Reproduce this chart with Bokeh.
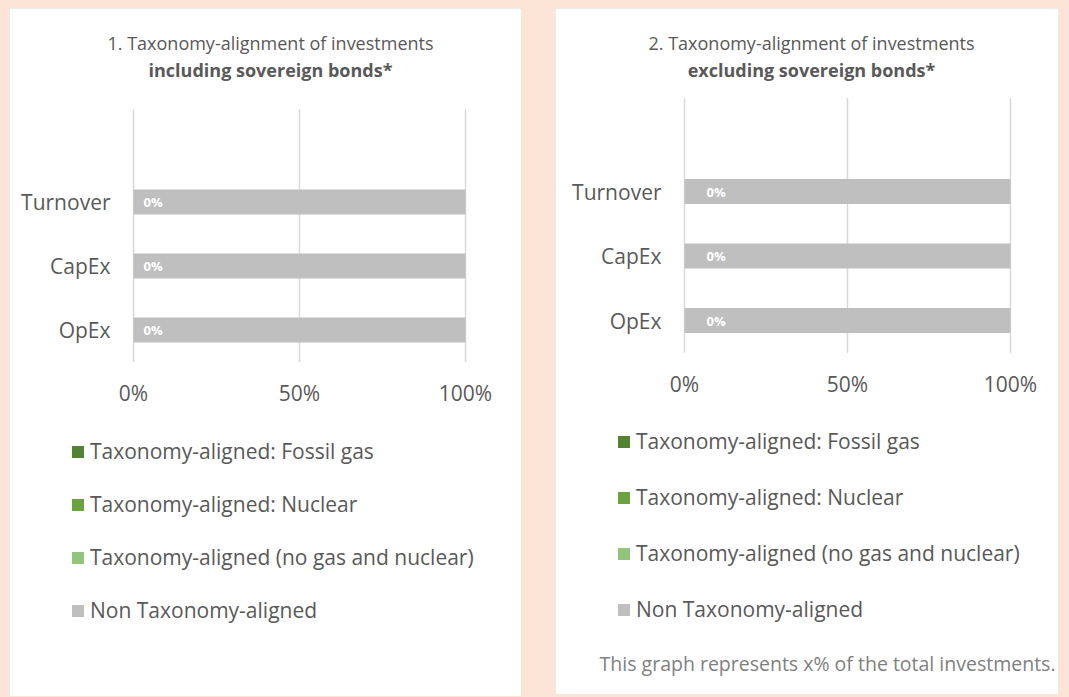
from bokeh.plotting import figure
from bokeh.models import Range1d, Legend, LegendItem, Label, ColumnDataSource
from bokeh.layouts import row
from bokeh.embed import file_html
from bokeh.resources import INLINE
from bokeh.core.properties import value

# ---------------- data ----------------
categories = ["Turnover", "CapEx", "OpEx"]
series_names = ["Taxonomy-aligned: Fossil gas",
                "Taxonomy-aligned: Nuclear",
                "Taxonomy-aligned (no gas and nuclear)",
                "Non Taxonomy-aligned"]
incl_fossil_gas = [0, 0, 0]
incl_nuclear = [0, 0, 0]
incl_aligned = [0, 0, 0]
incl_non_aligned = [100, 100, 100]
excl_fossil_gas = [0, 0, 0]
excl_nuclear = [0, 0, 0]
excl_aligned = [0, 0, 0]
excl_non_aligned = [100, 100, 100]
x_ticks = [0, 50, 100]
x_tick_labels = ["0%", "50%", "100%"]
title1_a = "1. Taxonomy-alignment of investments"
title1_b = "including sovereign bonds*"
title2_a = "2. Taxonomy-alignment of investments"
title2_b = "excluding sovereign bonds*"
footnote = "This graph represents x% of the total investments."

# ---------------- style ----------------
colors = ["#548235", "#6BA343", "#93C47D", "#BFBFBF"]
TXT = "#595959"
FONT = "Open Sans"
PEACH = "#FCE4D6"
GRID = "#D9D9D9"


def make_panel(vals, t_a, t_b, fig_box, plot_x, yb, dy, label_dx,
               title_x, leg_x, leg_spacing, leg_last, note=None):
    """fig_box: (left, top, width, height) of the panel on the page;
    plot_x: page x of 0 % and 100 %; yb: page y of the lowest category;
    dy: pixel distance between categories; leg_last: page y of the last
    legend entry."""
    fx, fy, fw, fh = fig_box
    x0p, x1p = plot_x
    sx = (x1p - x0p) / 100.0
    n = len(categories)
    ypos = [n - 1 - i for i in range(n)]
    keys = ["s0", "s1", "s2", "s3"]
    data = {"y": ypos, "cat": categories}
    for k, v in zip(keys, vals):
        data[k] = v
    aligned_total = [a + b + c for a, b, c in zip(vals[0], vals[1], vals[2])]
    data["lab"] = [f"{v:.0f}%" for v in vals[2]]
    data["lab_x"] = aligned_total
    data["zero"] = [0] * n
    src = ColumnDataSource(data)

    xr = Range1d(-(x0p - fx) / sx, 100 + (fx + fw - x1p) / sx)
    yr = Range1d(-(fy + fh - yb) / dy, (yb - fy) / dy)
    p = figure(width=fw, height=fh, output_backend="svg",
               toolbar_location=None, x_range=xr, y_range=yr,
               x_axis_location=None, y_axis_location=None,
               min_border=0, min_border_left=0, min_border_right=0,
               min_border_top=0, min_border_bottom=0)
    p.background_fill_color = "white"
    p.border_fill_color = "white"
    p.outline_line_color = None
    p.styles = {"outline": "1px solid #D9D9D9", "outline-offset": "-1px"}
    p.xgrid.visible = False
    p.ygrid.visible = False
    p.xgrid.grid_line_color = None
    p.ygrid.grid_line_color = None

    # vertical gridlines at the tick positions
    g_lo, g_hi = -0.5, n - 0.5 + 0.95
    p.segment(x0=x_ticks, x1=x_ticks, y0=[g_lo] * len(x_ticks),
              y1=[g_hi] * len(x_ticks), line_color=GRID, line_width=1.5)

    rs = p.hbar_stack(keys, y="y", height=0.39, color=colors,
                      line_color=None, source=src)

    # data labels inside the bars
    p.text(x="lab_x", y="y", text="lab", source=src, x_offset=label_dx,
           text_color="white", text_font=value(FONT),
           text_font_style="bold", text_font_size="13px",
           text_align="left", text_baseline="middle")

    # category (y) tick labels
    p.text(x="zero", y="y", text="cat", source=src, x_offset=-23,
           text_color=TXT, text_font=value(FONT), text_font_size="21px",
           text_align="right", text_baseline="middle")

    # x tick labels
    p.text(x=x_ticks, y=[g_lo] * len(x_ticks), text=x_tick_labels,
           y_offset=31, text_color=TXT, text_font=value(FONT),
           text_font_size="21px", text_align="center",
           text_baseline="middle")

    # two-line title
    p.add_layout(Label(x=title_x, y=fh - 34, x_units="screen",
                       y_units="screen", text=t_a, text_align="center",
                       text_baseline="middle", text_font=FONT,
                       text_font_size="18px", text_color=TXT))
    p.add_layout(Label(x=title_x, y=fh - 61, x_units="screen",
                       y_units="screen", text=t_b, text_align="center",
                       text_baseline="middle", text_font=FONT,
                       text_font_style="bold", text_font_size="18px",
                       text_color=TXT))

    # legend
    items = [LegendItem(label=nm, renderers=[r]) for nm, r in zip(series_names, rs)]
    item_h = 28
    last_center = fy + fh - leg_last
    leg = Legend(items=items, orientation="vertical",
                 location=(leg_x, last_center - item_h / 2),
                 glyph_width=15, glyph_height=15, label_height=item_h,
                 label_standoff=5, spacing=leg_spacing, padding=0, margin=0,
                 border_line_color=None, background_fill_alpha=0,
                 label_text_font=FONT, label_text_font_size="21px",
                 label_text_color=TXT)
    p.add_layout(leg, "center")

    if note:
        p.add_layout(Label(x=fw - 3, y=31, x_units="screen", y_units="screen",
                           text=note, text_align="right",
                           text_baseline="middle", text_font=FONT,
                           text_font_size="19.5px", text_color="#7F7F7F"))
    return p


p1 = make_panel([incl_fossil_gas, incl_nuclear, incl_aligned, incl_non_aligned],
                title1_a, title1_b, (9, 8, 512, 688), (133, 465), 329.5, 64,
                10, 261, 61, 25, 610)
p2 = make_panel([excl_fossil_gas, excl_nuclear, excl_aligned, excl_non_aligned],
                title2_a, title2_b, (555, 8, 503, 686), (684, 1010), 320, 64.5,
                22, 256, 61, 28, 609, note=footnote)

layout = row(p1, p2, spacing=34)
layout.margin = (8, 0, 0, 9)

html = file_html(layout, INLINE, title="Taxonomy alignment")
html = html.replace("</head>",
                    "<style>html, body { background-color: %s !important; overflow: hidden; }</style></head>" % PEACH, 1)
open("out.html", "w").write(html)
